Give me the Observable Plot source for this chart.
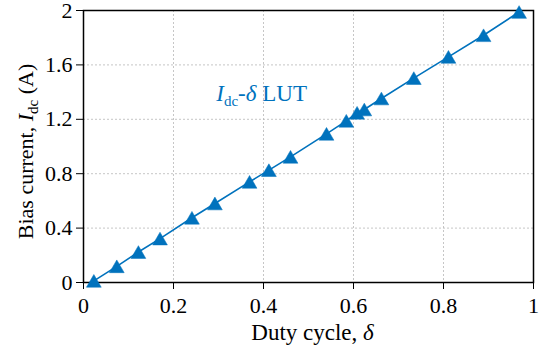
<!DOCTYPE html>
<html>
<head>
<meta charset="utf-8">
<script src="https://cdn.jsdelivr.net/npm/d3@7"></script>
<script src="https://cdn.jsdelivr.net/npm/@observablehq/plot@0.6"></script>
<style>
  html, body { margin: 0; padding: 0; background: #fff; }
  #chart svg { display: block; }
</style>
</head>
<body>
<div id="chart"></div>
<script>
// Bias current lookup table versus duty cycle
const dutyCycle   = [0.023, 0.074, 0.122, 0.170, 0.241, 0.292, 0.369, 0.412, 0.460, 0.540, 0.584, 0.608, 0.624, 0.662, 0.734, 0.811, 0.889, 0.968];
const biasCurrent = [0.012, 0.119, 0.224, 0.323, 0.476, 0.581, 0.740, 0.826, 0.924, 1.093, 1.189, 1.248, 1.272, 1.353, 1.503, 1.659, 1.818, 1.989];

const xTicks = [0, 0.2, 0.4, 0.6, 0.8, 1];
const yTicks = [0, 0.4, 0.8, 1.2, 1.6, 2];

const xTitle = "Duty cycle, δ";
const yTitle = "Bias current, Idc (A)";
const noteText = "Idc-δ LUT";

// where the series annotation sits, in data units
const noteAt = {x: 0.295, y: 1.336};

const lut = dutyCycle.map((d, i) => ({duty: d, bias: biasCurrent[i]}));

const blue = "#0072BD";
const font = "'Liberation Serif', 'Times New Roman', serif";

// upward triangle centred on its bounding box
const triangleUp = {
  draw(context, size) {
    const r = Math.sqrt(size / Math.PI);
    const w = r, h = r * 0.86;
    context.moveTo(0, -h);
    context.lineTo(w, h);
    context.lineTo(-w, h);
    context.closePath();
  }
};

const chart = Plot.plot({
  width: 544,
  height: 351,
  marginLeft: 83,
  marginRight: 11,
  marginTop: 10,
  marginBottom: 69,
  style: {fontFamily: font, fontSize: "22px", background: "#fff", color: "#000"},
  x: {domain: [0, 1]},
  y: {domain: [0, 2]},
  marks: [
    Plot.gridX(xTicks.slice(1, -1), {stroke: "#b8b8b8", strokeOpacity: 1, strokeWidth: 0.8, strokeDasharray: "2,2"}),
    Plot.gridY(yTicks.slice(1, -1), {stroke: "#b8b8b8", strokeOpacity: 1, strokeWidth: 0.8, strokeDasharray: "2,2"}),
    Plot.axisX(xTicks, {tickSize: 7, tickPadding: 8, tickFormat: d => String(d), fontSize: 22, label: null}),
    Plot.axisY(yTicks, {tickSize: 7, tickPadding: 4, tickFormat: d => String(d), fontSize: 22, label: null}),
    Plot.frame({stroke: "#000", strokeWidth: 1.5}),
    Plot.line(lut, {x: "duty", y: "bias", stroke: blue, strokeWidth: 1.6}),
    Plot.dot(lut, {x: "duty", y: "bias", symbol: triangleUp, r: 7.4, fill: blue, stroke: blue, strokeWidth: 0.5}),
    Plot.text([noteText], {x: () => noteAt.x, y: () => noteAt.y, textAnchor: "start", lineAnchor: "bottom", fill: blue, fontSize: 23}),
    Plot.text([xTitle], {frameAnchor: "bottom", textAnchor: "middle", lineAnchor: "bottom", dy: 57, dx: 4, fontSize: 23}),
    Plot.text([yTitle], {frameAnchor: "left", textAnchor: "middle", rotate: -90, dx: -58, dy: 5, fontSize: 22})
  ]
});

document.getElementById("chart").appendChild(chart);

// rich text: italic symbols and subscripts
function richText(content, parts) {
  const t = d3.select(chart).selectAll("text").filter(function () { return this.textContent === content; });
  t.text("");
  let shift = 0;
  for (const p of parts) {
    const s = t.append("tspan").text(p.text);
    if (p.italic) s.attr("font-style", "italic");
    const want = p.sub ? 5 : 0;
    if (want !== shift) { s.attr("dy", want - shift); shift = want; }
    if (p.sub) s.attr("font-size", "15px");
  }
}

richText(noteText, [
  {text: "I", italic: true},
  {text: "dc", sub: true},
  {text: "-"},
  {text: "δ", italic: true},
  {text: " LUT"}
]);
richText(xTitle, [
  {text: "Duty cycle, "},
  {text: "δ", italic: true}
]);
richText(yTitle, [
  {text: "Bias current, "},
  {text: "I", italic: true},
  {text: "dc", sub: true},
  {text: " (A)"}
]);
</script>
</body>
</html>
